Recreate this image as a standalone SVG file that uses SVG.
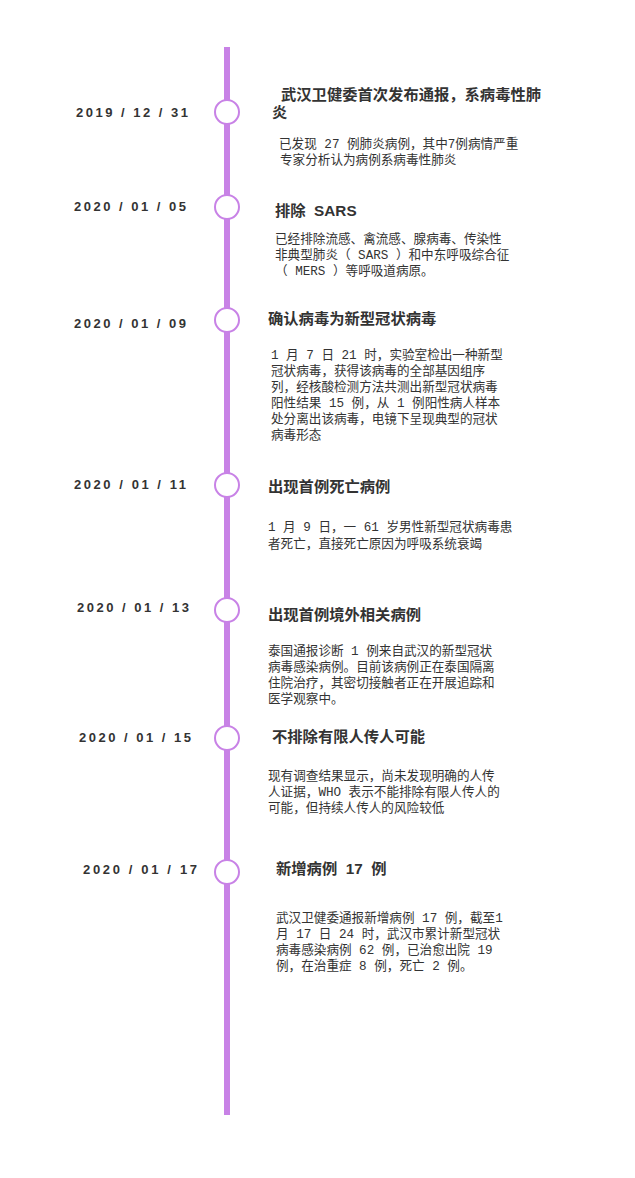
<svg xmlns="http://www.w3.org/2000/svg" width="635" height="1178" viewBox="0 0 635 1178">
<style>
.d{font:bold 13px "Liberation Sans","Noto Sans CJK SC",sans-serif;fill:#333;white-space:pre}
.t{font:bold 15.3px "Liberation Sans","Noto Sans CJK SC",sans-serif;fill:#333;white-space:pre}
.b{font:12.6px "Liberation Mono","Noto Sans CJK SC",monospace;fill:#333}
.c{fill:#fff;stroke:#c882e6;stroke-width:2}
</style>
<rect width="635" height="1178" fill="#fff"/>
<g id="connectors"><line x1="227" y1="47" x2="227" y2="1115" stroke="#c882e6" stroke-width="6"/></g>
<g id="n1"><circle class="c" cx="227" cy="112" r="12"/><text class="d" x="76" y="117" textLength="112" lengthAdjust="spacing">2019 / 12 / 31</text>
<text class="t" x="281" y="100">武汉卫健委首次发布通报，系病毒性肺</text><text class="t" x="272" y="118">炎</text>
<text class="b" x="279" y="148">已发现 27 例肺炎病例，其中7例病情严重</text><text class="b" x="280" y="164">专家分析认为病例系病毒性肺炎</text></g>
<g id="n2"><circle class="c" cx="227" cy="207" r="12"/><text class="d" x="74" y="211" textLength="112" lengthAdjust="spacing">2020 / 01 / 05</text>
<text class="t" x="275" y="216" xml:space="preserve">排除  SARS</text>
<text class="b" x="275" y="243">已经排除流感、禽流感、腺病毒、传染性</text><text class="b" x="275" y="259">非典型肺炎（ SARS ）和中东呼吸综合征</text><text class="b" x="275" y="275">（ MERS ）等呼吸道病原。</text></g>
<g id="n3"><circle class="c" cx="227" cy="320" r="12"/><text class="d" x="74" y="328" textLength="112" lengthAdjust="spacing">2020 / 01 / 09</text>
<text class="t" x="268" y="324">确认病毒为新型冠状病毒</text>
<text class="b" x="271" y="359"><tspan x="271">1 月 7 日 21 时，实验室检出一种新型</tspan><tspan x="271" dy="16">冠状病毒，获得该病毒的全部基因组序</tspan><tspan x="271" dy="16">列，经核酸检测方法共测出新型冠状病毒</tspan><tspan x="271" dy="16">阳性结果 15 例，从 1 例阳性病人样本</tspan><tspan x="271" dy="16">处分离出该病毒，电镜下呈现典型的冠状</tspan><tspan x="271" dy="16">病毒形态</tspan></text></g>
<g id="n4"><circle class="c" cx="227" cy="485" r="12"/><text class="d" x="74" y="489" textLength="112" lengthAdjust="spacing">2020 / 01 / 11</text>
<text class="t" x="268" y="492">出现首例死亡病例</text>
<text class="b" x="268" y="531">1 月 9 日，一 61 岁男性新型冠状病毒患</text><text class="b" x="268" y="548">者死亡，直接死亡原因为呼吸系统衰竭</text></g>
<g id="n5"><circle class="c" cx="227" cy="610" r="12"/><text class="d" x="77" y="612" textLength="112" lengthAdjust="spacing">2020 / 01 / 13</text>
<text class="t" x="268" y="620">出现首例境外相关病例</text>
<text class="b" x="268" y="655"><tspan x="268">泰国通报诊断 1 例来自武汉的新型冠状</tspan><tspan x="268" dy="16">病毒感染病例。目前该病例正在泰国隔离</tspan><tspan x="268" dy="16">住院治疗，其密切接触者正在开展追踪和</tspan><tspan x="268" dy="16">医学观察中。</tspan></text></g>
<g id="n6"><circle class="c" cx="227" cy="738" r="12"/><text class="d" x="79" y="742" textLength="112" lengthAdjust="spacing">2020 / 01 / 15</text>
<text class="t" x="272" y="742">不排除有限人传人可能</text>
<text class="b" x="268" y="780"><tspan x="268">现有调查结果显示，尚未发现明确的人传</tspan><tspan x="268" dy="16">人证据，WHO 表示不能排除有限人传人的</tspan><tspan x="268" dy="16">可能，但持续人传人的风险较低</tspan></text></g>
<g id="n7"><circle class="c" cx="227" cy="872" r="12"/><text class="d" x="83" y="874" textLength="114" lengthAdjust="spacing">2020 / 01 / 17</text>
<text class="t" x="276" y="874" xml:space="preserve">新增病例  17  例</text>
<text class="b" x="276" y="922"><tspan x="276">武汉卫健委通报新增病例 17 例，截至1</tspan><tspan x="276" dy="16">月 17 日 24 时，武汉市累计新型冠状</tspan><tspan x="276" dy="16">病毒感染病例 62 例，已治愈出院 19</tspan><tspan x="276" dy="16">例，在治重症 8 例，死亡 2 例。</tspan></text></g>
</svg>
